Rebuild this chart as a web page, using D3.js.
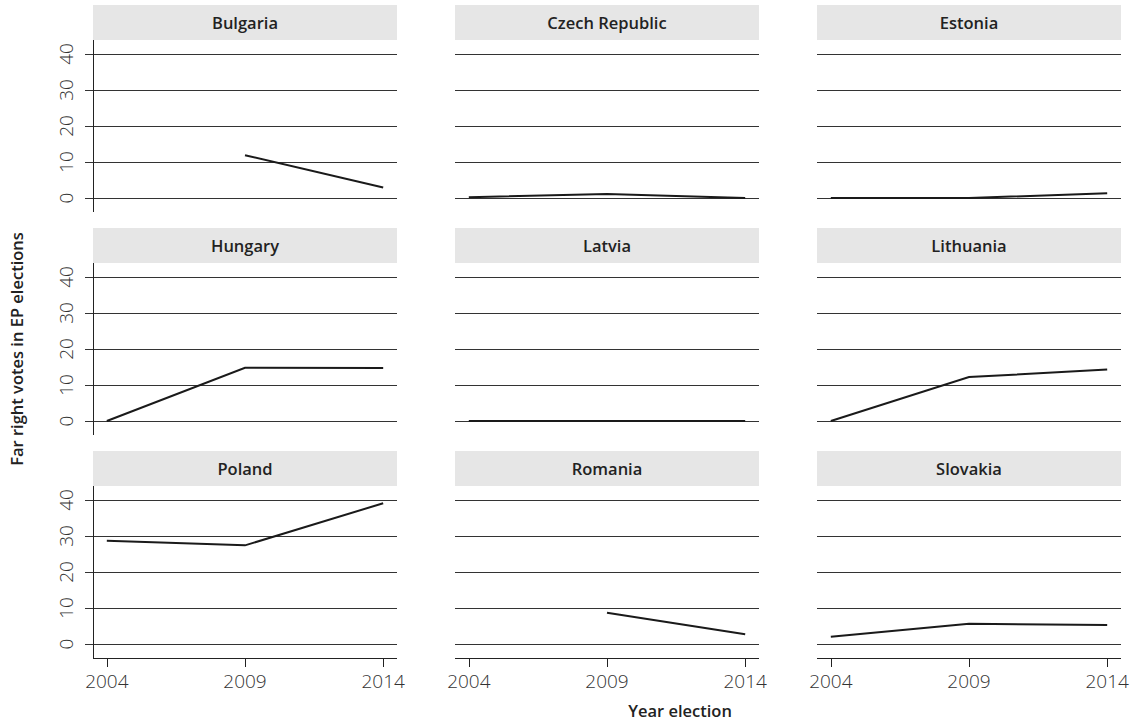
<!DOCTYPE html>
<html>
<head>
<meta charset="utf-8">
<script src="https://cdn.jsdelivr.net/npm/d3@7"></script>
<style>
  body { margin: 0; background: #fff; }
  svg { display: block; font-family: "Open Sans", "Noto Sans", sans-serif; }
</style>
</head>
<body>
<svg width="1140" height="727"></svg>
<script>

const years = [2004, 2009, 2014];
const yTicks = [0, 10, 20, 30, 40];

const countries = ['Bulgaria', 'Czech Republic', 'Estonia',
                   'Hungary', 'Latvia', 'Lithuania',
                   'Poland', 'Romania', 'Slovakia'];

// far right vote share, per election year (null = no election)
const bulgaria  = [null, 11.9, 2.9];
const czech     = [0.2, 1.1, 0.0];
const estonia   = [0.0, 0.0, 1.3];
const hungary   = [0.0, 14.8, 14.7];
const latvia    = [0.0, 0.0, 0.0];
const lithuania = [0.0, 12.2, 14.3];
const poland    = [28.7, 27.4, 39.1];
const romania   = [null, 8.7, 2.7];
const slovakia  = [2.0, 5.6, 5.3];

const series = [bulgaria, czech, estonia, hungary, latvia, lithuania, poland, romania, slovakia];

const svg = d3.select('svg');

const marginLeft = 93, colStep = 362, pw = 304;
const marginTop = 5, rowStep = 223, stripH = 35, ph = 172;

const x = d3.scaleLinear().domain([2003.5, 2014.5]).range([0, pw]);
const y = d3.scaleLinear().domain([-3.89, 43.89]).range([ph, 0]);

const line = d3.line()
    .defined(d => d[1] != null)
    .x(d => x(d[0]))
    .y(d => y(d[1]));

countries.forEach(function(name, i) {
    const col = i % 3, row = Math.floor(i / 3);
    const g = svg.append('g')
        .attr('transform', 'translate(' + (marginLeft + col * colStep) + ',' + (marginTop + row * rowStep) + ')');

    // strip
    g.append('rect')
        .attr('width', pw).attr('height', stripH)
        .attr('fill', '#e6e6e6');
    g.append('text')
        .attr('x', pw / 2).attr('y', stripH / 2 + 6)
        .attr('text-anchor', 'middle')
        .attr('font-size', 16.5).attr('font-weight', 600)
        .attr('fill', '#222')
        .text(name);

    const p = g.append('g').attr('transform', 'translate(0,' + stripH + ')');

    // gridlines (extend left as ticks in the first column)
    p.selectAll('.grid')
        .data(yTicks)
        .enter().append('line')
            .attr('class', 'grid')
            .attr('x1', col === 0 ? -8 : 0).attr('x2', pw)
            .attr('y1', d => Math.round(y(d)) + 0.5)
            .attr('y2', d => Math.round(y(d)) + 0.5)
            .attr('stroke', '#333').attr('stroke-width', 1);

    if (col === 0) {
        p.append('line')
            .attr('x1', 0.5).attr('x2', 0.5)
            .attr('y1', 0).attr('y2', ph)
            .attr('stroke', '#222');
        p.selectAll('.ylab')
            .data(yTicks)
            .enter().append('text')
                .attr('class', 'ylab')
                .attr('transform', d => 'translate(-20,' + y(d) + ') rotate(-90)')
                .attr('text-anchor', 'middle')
                .attr('font-size', 19).attr('font-weight', 300)
                .attr('fill', '#333')
                .text(d => d);
    }

    if (row === 2) {
        p.append('line')
            .attr('x1', 0).attr('x2', pw)
            .attr('y1', ph + 0.5).attr('y2', ph + 0.5)
            .attr('stroke', '#222');
        p.selectAll('.xt')
            .data(years)
            .enter().append('line')
                .attr('x1', d => Math.round(x(d)) + 0.5)
                .attr('x2', d => Math.round(x(d)) + 0.5)
                .attr('y1', ph).attr('y2', ph + 9)
                .attr('stroke', '#222');
        p.selectAll('.xlab')
            .data(years)
            .enter().append('text')
                .attr('x', d => x(d)).attr('y', ph + 30)
                .attr('text-anchor', 'middle')
                .attr('font-size', 19).attr('font-weight', 300)
                .attr('fill', '#333')
                .text(d => d);
    }

    p.append('path')
        .datum(years.map((yr, j) => [yr, series[i][j]]))
        .attr('d', line)
        .attr('fill', 'none')
        .attr('stroke', '#1a1a1a')
        .attr('stroke-width', 2);
});

// axis titles
svg.append('text')
    .attr('transform', 'translate(23,349) rotate(-90)')
    .attr('text-anchor', 'middle')
    .attr('font-size', 16.5).attr('font-weight', 600)
    .attr('fill', '#222')
    .text('Far right votes in EP elections');

svg.append('text')
    .attr('x', 680).attr('y', 717)
    .attr('text-anchor', 'middle')
    .attr('font-size', 16.5).attr('font-weight', 600)
    .attr('fill', '#222')
    .text('Year election');

</script>
</body>
</html>
